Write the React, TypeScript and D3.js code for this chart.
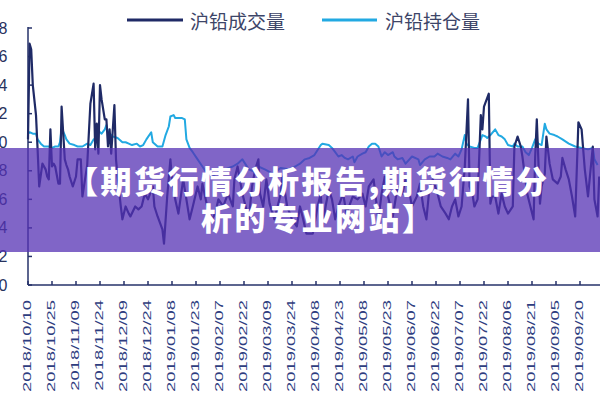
import React from "react";
import * as d3 from "d3";

// ---- data ----
const seriesNames = ["沪铅成交量", "沪铅持仓量"];

const volDates = [
  "2018-10-10","2018-10-11","2018-10-12","2018-10-13","2018-10-15","2018-10-16","2018-10-17","2018-10-19","2018-10-21","2018-10-22",
  "2018-10-23","2018-10-24","2018-10-25","2018-10-26","2018-10-27","2018-10-29","2018-10-30","2018-10-31","2018-11-02","2018-11-03",
  "2018-11-04","2018-11-05","2018-11-07","2018-11-09","2018-11-10","2018-11-12","2018-11-13","2018-11-16","2018-11-18","2018-11-20",
  "2018-11-21","2018-11-22","2018-11-23","2018-11-24","2018-11-25","2018-11-27","2018-11-28","2018-11-29","2018-11-30","2018-12-01",
  "2018-12-03","2018-12-04","2018-12-05","2018-12-07","2018-12-08","2018-12-10","2018-12-12","2018-12-13","2018-12-16","2018-12-18",
  "2018-12-20","2018-12-22","2018-12-24","2018-12-27","2018-12-28","2018-12-30","2019-01-02","2019-01-03","2019-01-05","2019-01-07",
  "2019-01-08","2019-01-10","2019-01-12","2019-01-15","2019-01-17","2019-01-19","2019-01-21","2019-01-24","2019-01-26","2019-01-27",
  "2019-01-30","2019-02-02","2019-02-04","2019-02-06","2019-02-09","2019-02-12","2019-02-15","2019-02-16","2019-02-18","2019-02-21",
  "2019-02-23","2019-02-25","2019-02-27","2019-03-01","2019-03-03","2019-03-04","2019-03-06","2019-03-08","2019-03-10","2019-03-13",
  "2019-03-17","2019-03-18","2019-03-21","2019-03-24","2019-03-27","2019-03-29","2019-03-31","2019-04-02","2019-04-06","2019-04-09",
  "2019-04-11","2019-04-12","2019-04-14","2019-04-16","2019-04-18","2019-04-20","2019-04-22","2019-04-25","2019-04-27","2019-05-01",
  "2019-05-04","2019-05-07","2019-05-09","2019-05-11","2019-05-14","2019-05-16","2019-05-17","2019-05-19","2019-05-21","2019-05-23",
  "2019-05-26","2019-05-29","2019-06-01","2019-06-03","2019-06-05","2019-06-07","2019-06-10","2019-06-12","2019-06-14","2019-06-16",
  "2019-06-18","2019-06-20","2019-06-23","2019-06-25","2019-06-28","2019-06-30","2019-07-02","2019-07-04","2019-07-06","2019-07-08",
  "2019-07-10","2019-07-12","2019-07-13","2019-07-15","2019-07-16","2019-07-18","2019-07-20","2019-07-21","2019-07-22","2019-07-25",
  "2019-07-26","2019-07-27","2019-07-29","2019-07-31","2019-08-02","2019-08-04","2019-08-06","2019-08-09","2019-08-10","2019-08-12",
  "2019-08-14","2019-08-15","2019-08-18","2019-08-20","2019-08-22","2019-08-23","2019-08-24","2019-08-26","2019-08-27","2019-08-29",
  "2019-08-30","2019-09-01","2019-09-03","2019-09-06","2019-09-08","2019-09-09","2019-09-11","2019-09-13","2019-09-15","2019-09-17",
  "2019-09-19","2019-09-21","2019-09-23","2019-09-25","2019-09-28","2019-09-29","2019-10-01","2019-10-02",
];
const volValues = [
  1.02,1.69,1.65,1.40,1.19,0.95,0.69,0.85,0.81,0.76,
  0.74,1.09,0.83,0.85,0.83,0.71,0.71,1.25,0.88,0.84,
  0.81,0.76,0.69,0.76,0.88,0.88,0.62,0.84,1.27,1.41,
  0.95,1.13,0.92,1.40,1.30,1.16,1.16,0.97,1.09,0.92,
  1.26,0.88,0.76,0.55,0.46,0.55,0.50,0.48,0.55,0.53,
  0.55,0.64,0.60,0.69,0.55,0.48,0.39,0.29,0.62,0.88,
  0.74,0.60,0.50,0.74,0.60,0.46,0.55,0.69,0.60,0.71,
  0.55,0.46,0.50,0.60,0.55,0.64,0.55,0.74,0.83,0.64,
  0.55,0.46,0.69,0.81,0.88,0.64,0.55,0.74,0.57,0.46,
  0.64,0.76,0.55,0.46,0.41,0.55,0.46,0.36,0.36,0.55,
  0.64,0.41,0.55,0.67,0.60,0.46,0.55,0.64,0.50,0.62,
  0.60,0.64,0.55,0.69,0.74,0.55,0.46,0.64,0.76,0.62,
  0.48,0.69,0.64,0.74,0.67,0.55,0.62,0.71,0.55,0.46,
  0.69,0.74,0.64,0.55,0.50,0.46,0.55,0.60,0.48,0.55,
  0.83,1.30,0.69,0.62,0.55,0.60,1.19,1.09,1.25,1.34,
  0.57,0.62,0.62,0.50,0.64,0.55,0.50,0.55,0.97,1.04,
  0.97,0.90,0.64,0.55,0.46,0.90,1.16,0.57,0.69,0.78,
  1.04,0.85,0.74,0.71,0.76,0.89,0.81,0.74,0.62,0.48,
  1.14,1.09,0.81,0.62,0.97,0.60,0.48,0.76,
];

const oiDates = [
  "2018-10-10","2018-10-11","2018-10-13","2018-10-15","2018-10-16","2018-10-18","2018-10-20","2018-10-23","2018-10-25","2018-10-27",
  "2018-10-29","2018-10-30","2018-10-31","2018-11-02","2018-11-03","2018-11-05","2018-11-08","2018-11-10","2018-11-13","2018-11-16",
  "2018-11-18","2018-11-20","2018-11-22","2018-11-23","2018-11-25","2018-11-27","2018-11-28","2018-11-29","2018-12-01","2018-12-02",
  "2018-12-05","2018-12-08","2018-12-10","2018-12-12","2018-12-14","2018-12-17","2018-12-19","2018-12-21","2018-12-23","2018-12-26",
  "2018-12-27","2018-12-30","2019-01-02","2019-01-04","2019-01-06","2019-01-07","2019-01-09","2019-01-10","2019-01-12","2019-01-14",
  "2019-01-16","2019-01-17","2019-01-19","2019-01-21","2019-01-24","2019-01-27","2019-01-30","2019-02-02","2019-02-06","2019-02-10",
  "2019-02-15","2019-02-18","2019-02-21","2019-02-25","2019-03-01","2019-03-03","2019-03-07","2019-03-12","2019-03-17","2019-03-22",
  "2019-03-26","2019-03-29","2019-04-01","2019-04-04","2019-04-07","2019-04-11","2019-04-12","2019-04-16","2019-04-18","2019-04-20",
  "2019-04-22","2019-04-24","2019-04-26","2019-04-28","2019-05-01","2019-05-02","2019-05-04","2019-05-07","2019-05-09","2019-05-11",
  "2019-05-13","2019-05-15","2019-05-17","2019-05-19","2019-05-21","2019-05-23","2019-05-26","2019-05-27","2019-05-29","2019-06-01",
  "2019-06-03","2019-06-07","2019-06-11","2019-06-12","2019-06-15","2019-06-18","2019-06-21","2019-06-23","2019-06-26","2019-06-29",
  "2019-07-01","2019-07-04","2019-07-06","2019-07-08","2019-07-10","2019-07-11","2019-07-13","2019-07-16","2019-07-18","2019-07-21",
  "2019-07-23","2019-07-24","2019-07-26","2019-07-29","2019-07-31","2019-08-02","2019-08-04","2019-08-06","2019-08-09","2019-08-10",
  "2019-08-12","2019-08-15","2019-08-17","2019-08-19","2019-08-21","2019-08-23","2019-08-25","2019-08-27","2019-08-29","2019-08-30",
  "2019-09-01","2019-09-04","2019-09-06","2019-09-09","2019-09-13","2019-09-17","2019-09-21","2019-09-25","2019-09-28","2019-09-29",
  "2019-10-01",
];
const oiValues = [
  1.06,1.07,1.06,1.06,1.02,0.99,0.97,0.97,0.96,0.97,
  0.97,1.00,1.10,1.05,1.02,0.99,0.98,0.97,0.97,0.99,
  0.98,1.02,1.03,1.08,1.06,1.09,1.12,1.07,1.05,1.04,
  1.03,1.00,1.00,0.99,0.98,0.99,0.97,0.98,1.02,1.07,
  1.00,0.97,0.97,1.05,1.11,1.18,1.19,1.17,1.17,1.17,
  1.16,1.02,0.96,0.93,0.88,0.83,0.78,0.76,0.79,0.81,
  0.83,0.85,0.88,0.81,0.79,0.83,0.81,0.78,0.82,0.81,
  0.83,0.85,0.88,0.89,0.91,0.98,0.99,0.98,0.96,0.93,
  0.90,0.91,0.89,0.88,0.90,0.86,0.90,0.92,0.93,0.97,
  0.99,0.99,0.97,0.90,0.93,0.91,0.93,0.90,0.88,0.89,
  0.85,0.90,0.88,0.84,0.88,0.90,0.90,0.92,0.90,0.89,
  0.88,0.92,0.90,0.95,1.05,0.99,0.97,0.96,0.96,1.05,
  1.04,1.03,1.05,1.09,1.05,1.04,1.02,0.98,0.97,0.99,
  0.97,0.97,0.93,0.91,0.96,1.02,0.99,0.98,1.13,1.09,
  1.06,1.05,1.04,1.02,0.99,0.97,0.96,0.95,0.96,0.88,
  0.84,
];

const xTickLabels = [
  "2018/10/10","2018/10/25","2018/11/09","2018/11/24","2018/12/09","2018/12/24",
  "2019/01/08","2019/01/23","2019/02/07","2019/02/22","2019/03/09","2019/03/24",
  "2019/04/08","2019/04/23","2019/05/08","2019/05/23","2019/06/07","2019/06/22",
  "2019/07/07","2019/07/22","2019/08/06","2019/08/21","2019/09/05","2019/09/20",
];
const yTickValues = [0, 0.2, 0.4, 0.6, 0.8, 1.0, 1.2, 1.4, 1.6, 1.8];
const yTickLabels = ["0", "0.2", "0.4", "0.6", "0.8", "1.0", "1.2", "1.4", "1.6", "1.8"];
const bannerLines = ["【期货行情分析报告,期货行情分", "析的专业网站】"];

// ---- layout ----
const W = 600;
const H = 400;
const DARK = "#1f2a66";
const LIGHT = "#22a9e2";
const AXIS = "#26326a";

const parseD = d3.utcParse("%Y-%m-%d");
const parseT = d3.utcParse("%Y/%m/%d");

const x = d3
  .scaleUtc()
  .domain([parseD("2018-10-10") as Date, parseD("2019-10-03") as Date])
  .range([28, 28 + 358 * 1.6]);
const y = d3.scaleLinear().domain([0, 1.8]).range([285, 28]);

type Pt = [Date, number];
const volData: Pt[] = volDates.map((d, i) => [parseD(d) as Date, volValues[i]]);
const oiData: Pt[] = oiDates.map((d, i) => [parseD(d) as Date, oiValues[i]]);

const line = d3
  .line<Pt>()
  .x((d) => x(d[0]))
  .y((d) => y(d[1]));

export default function App() {
  const x0 = x.range()[0];
  const y0 = y.range()[0];
  const yTop = y.range()[1];
  return (
    <svg
      width={W}
      height={H}
      viewBox={`0 0 ${W} ${H}`}
      style={{ position: "fixed", left: 0, top: 0, background: "#fff" }}
    >
      <rect x={0} y={0} width={W} height={H} fill="#fff" />
      {/* legend */}
      <g fontFamily="'Noto Sans CJK SC', sans-serif" fontSize={19} fill="#3d4568">
        <line x1={127} x2={183} y1={20} y2={20} stroke={DARK} strokeWidth={3} />
        <text x={190} y={20} dominantBaseline="central">{seriesNames[0]}</text>
        <line x1={322} x2={377} y1={20} y2={20} stroke={LIGHT} strokeWidth={3} />
        <text x={385} y={20} dominantBaseline="central">{seriesNames[1]}</text>
      </g>

      {/* y axis */}
      <line x1={x0} x2={x0} y1={yTop - 1} y2={y0} stroke={AXIS} strokeWidth={1.5} />
      {yTickValues.map((v, i) => (
        <g key={"y" + i}>
          <line x1={x0} x2={x0 + 4} y1={y(v)} y2={y(v)} stroke={AXIS} strokeWidth={1.5} />
          <text
            x={7.5}
            y={y(v)}
            textAnchor="end"
            dominantBaseline="central"
            fontFamily="'Liberation Sans', Arial, sans-serif"
            fontSize={16}
            fill="#27325e"
          >
            {yTickLabels[i]}
          </text>
        </g>
      ))}

      {/* x axis */}
      <line x1={x0} x2={W} y1={y0} y2={y0} stroke={AXIS} strokeWidth={1.5} />
      {xTickLabels.map((t, i) => {
        const px = x(parseT(t) as Date);
        return (
          <g key={"x" + i}>
            <line x1={px} x2={px} y1={y0} y2={y0 - 4} stroke={AXIS} strokeWidth={1.5} />
            <text
              transform={`translate(${px + 3},300) rotate(-90) scale(1.6,1)`}
              textAnchor="end"
              fontFamily="'Liberation Sans', Arial, sans-serif"
              fontSize={11.5}
              fill="#2e3d80"
            >
              {t}
            </text>
          </g>
        );
      })}

      {/* series */}
      <path d={line(oiData) || ""} fill="none" stroke={LIGHT} strokeWidth={2} strokeLinejoin="round" />
      <path d={line(volData) || ""} fill="none" stroke={DARK} strokeWidth={2.2} strokeLinejoin="round" />

      {/* banner overlay */}
      <rect x={0} y={148} width={W} height={104} fill="rgb(85,50,180)" fillOpacity={0.75} />
      <text
        fontFamily="'Noto Sans CJK SC', sans-serif"
        fontWeight={900}
        fontSize={31}
        fill="#fff"
        letterSpacing={2.5}
      >
        <tspan x={67} y={193}>{bannerLines[0]}</tspan>
        <tspan x={201} y={230}>{bannerLines[1]}</tspan>
      </text>
    </svg>
  );
}
